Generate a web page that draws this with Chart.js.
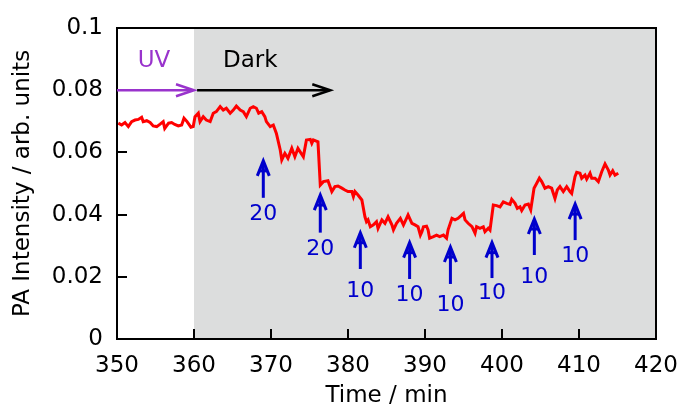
<!DOCTYPE html>
<html>
<head>
<meta charset="utf-8">
<script src="https://cdn.jsdelivr.net/npm/chart.js@4.4.1/dist/chart.umd.min.js"></script>
<style>
  html, body { margin: 0; padding: 0; background: #ffffff; }
  #wrap { width: 680px; height: 407px; }
</style>
</head>
<body>
<div id="wrap"><canvas id="c" width="680" height="407"></canvas></div>
<script>
// Photoacoustic intensity trace (time in min, intensity in arb. units)
const times = [
  350.17, 350.6, 351.04, 351.47, 351.9, 352.34, 352.77, 353.2, 353.4, 353.86,
  354.3, 354.7, 355.16, 355.6, 356.0, 356.2, 356.7, 357.1, 357.5, 357.96,
  358.4, 358.7, 359.1, 359.6, 359.9,
  360.13, 360.56, 360.78, 361.2, 361.6, 362.1, 362.5, 362.9, 363.4, 363.8,
  364.2, 364.7, 365.1, 365.5, 366.0, 366.4, 366.8, 367.3, 367.7, 368.1,
  368.4, 368.8, 369.2, 369.4, 369.9, 370.3, 370.7, 371.2, 371.4, 371.8,
  372.2, 372.7, 373.1, 373.5,
  374.2, 374.6, 375.1, 375.3, 375.5, 376.1, 376.4, 376.8, 377.4, 377.9,
  378.3, 378.7, 379.2, 379.6, 380.0, 380.5, 380.7, 380.9, 381.3, 381.8,
  382.2, 382.4, 382.6, 382.9, 383.3, 383.7, 383.9, 384.4, 384.8, 385.2,
  385.7, 385.9, 386.3, 386.8, 387.2, 387.6, 387.8, 388.3, 388.7, 389.1,
  389.4, 389.6, 389.8, 390.2, 390.4, 390.6, 391.1, 391.5, 391.9, 392.4,
  392.8, 393.0, 393.5, 393.9, 394.3, 395.0, 395.2, 395.6, 396.1, 396.5,
  396.7,
  397.14, 397.57, 397.79, 398.22, 398.44, 398.87, 399.31, 399.74, 400.17, 400.61,
  401.04, 401.26, 401.69, 401.99, 402.34, 402.56, 402.99, 403.42, 403.73, 404.16,
  404.51, 404.85, 405.16, 405.58, 406.01, 406.45, 406.88, 407.18, 407.53, 407.96,
  408.40, 408.83, 409.05, 409.48, 409.70, 410.13, 410.35, 410.78, 411.0, 411.43,
  411.65, 412.08, 412.51, 412.95, 413.38, 413.81, 414.03, 414.38, 414.68, 415.1
];
const intensity = [
  0.0694, 0.0688, 0.0696, 0.0683, 0.0699, 0.0704, 0.0706, 0.0713, 0.0699, 0.0702,
  0.0696, 0.0685, 0.0683, 0.0691, 0.0699, 0.0677, 0.0694, 0.0696, 0.0690, 0.0685,
  0.0688, 0.0710, 0.0699, 0.0681, 0.0683,
  0.0715, 0.0726, 0.0699, 0.0715, 0.0704, 0.0699, 0.0726, 0.0731, 0.0747, 0.0736,
  0.0742, 0.0726, 0.0736, 0.0749, 0.0736, 0.0731, 0.0715, 0.0742, 0.0747, 0.0742,
  0.0726, 0.0731, 0.0715, 0.0699, 0.0683, 0.0688, 0.0661, 0.0608, 0.0576, 0.0597,
  0.0581, 0.0613, 0.0586, 0.0613,
  0.0586, 0.0640, 0.0642, 0.0629, 0.0640, 0.0634, 0.0495, 0.0506, 0.0509, 0.0474,
  0.0490, 0.0492, 0.0485, 0.0479, 0.0474, 0.0474, 0.0458, 0.0474, 0.0463, 0.0447,
  0.0393, 0.0377, 0.0383, 0.0361, 0.0367, 0.0377, 0.0356, 0.0383, 0.0372, 0.0393,
  0.0367, 0.0351, 0.0372, 0.0388, 0.0367, 0.0388, 0.0399, 0.0372, 0.0367, 0.0361,
  0.0334, 0.0345, 0.0361, 0.0363, 0.0351, 0.0324, 0.0329, 0.0334, 0.0329, 0.0334,
  0.0324, 0.0351, 0.0388, 0.0383, 0.0388, 0.0404, 0.0383, 0.0372, 0.0361, 0.0340,
  0.0361,
  0.0356, 0.0361, 0.0345, 0.0356, 0.0350, 0.0431, 0.0429, 0.0425, 0.0441, 0.0436,
  0.0433, 0.0449, 0.0436, 0.0420, 0.0425, 0.0413, 0.0431, 0.0434, 0.0415, 0.0485,
  0.0501, 0.0517, 0.0506, 0.0485, 0.0490, 0.0485, 0.0452, 0.0479, 0.0490, 0.0474,
  0.0490, 0.0474, 0.0468, 0.0522, 0.0536, 0.0533, 0.0517, 0.0527, 0.0514, 0.0533,
  0.0517, 0.0517, 0.0506, 0.0538, 0.0563, 0.0543, 0.0527, 0.0541, 0.0527, 0.0533
];

// Axis ticks
const xTicks = [350, 360, 370, 380, 390, 400, 410, 420];
const yTicks = [0, 0.02, 0.04, 0.06, 0.08, 0.1];
const yTickLabels = ['0', '0.02', '0.04', '0.06', '0.08', '0.1'];

// Illumination phases
const uvStart = 350, darkStart = 360, darkEnd = 420, darkArrowStart = 360.4, darkArrowEnd = 377.7;
const phaseArrowLevel = 0.08;
const phaseLabelLevel = 0.0895;
const uvLabelTime = 354.8, darkLabelTime = 367.3;

// Dosing events (blue arrows) and their amounts
const arrowTimes  = [369.0, 376.4, 381.6, 388.0, 393.3, 398.7, 404.2, 409.5];
const arrowTips   = [0.0576, 0.0466, 0.0345, 0.0313, 0.0299, 0.0313, 0.0389, 0.0437];
const arrowBases  = [0.0454, 0.0342, 0.0225, 0.0193, 0.0177, 0.0196, 0.0270, 0.0318];
const doseLabels  = ['20', '20', '10', '10', '10', '10', '10', '10'];
const labelLevels = [0.0402, 0.0289, 0.0155, 0.0141, 0.0109, 0.0148, 0.0200, 0.0265];

const FONT = 'DejaVu Sans';
const BLUE = '#0000cc';
const PURPLE = '#9933cc';

Chart.defaults.font.family = FONT;
Chart.defaults.color = '#000000';

// Grey background for the dark period
const darkShade = {
  id: 'darkShade',
  beforeDatasetsDraw(chart) {
    const { ctx, chartArea, scales: { x } } = chart;
    const x0 = x.getPixelForValue(darkStart), x1 = x.getPixelForValue(darkEnd);
    ctx.save();
    ctx.fillStyle = '#dcdddd';
    ctx.fillRect(x0, chartArea.top, x1 - x0, chartArea.bottom - chartArea.top);
    ctx.restore();
  }
};

// Plot frame with inward tick marks
const frameTicks = {
  id: 'frameTicks',
  afterDatasetsDraw(chart) {
    const { ctx, chartArea: a, scales: { x, y } } = chart;
    ctx.save();
    ctx.strokeStyle = '#000000';
    ctx.lineWidth = 2;
    ctx.beginPath();
    xTicks.forEach(v => {
      const px = Math.round(x.getPixelForValue(v));
      ctx.moveTo(px, a.bottom); ctx.lineTo(px, a.bottom - 10);
    });
    yTicks.forEach(v => {
      const py = Math.round(y.getPixelForValue(v));
      ctx.moveTo(a.left, py); ctx.lineTo(a.left + 10, py);
    });
    ctx.stroke();
    ctx.strokeRect(a.left, a.top, a.right - a.left, a.bottom - a.top);
    ctx.restore();
  }
};

function drawChevronArrow(ctx, x0, x1, py, color) {
  ctx.strokeStyle = color;
  ctx.lineWidth = 2.5;
  ctx.lineCap = 'butt';
  ctx.lineJoin = 'miter';
  ctx.beginPath();
  ctx.moveTo(x0, py); ctx.lineTo(x1 - 1, py);
  ctx.stroke();
  ctx.beginPath();
  ctx.moveTo(x1 - 18, py - 6); ctx.lineTo(x1, py); ctx.lineTo(x1 - 18, py + 6);
  ctx.stroke();
}

// Phase arrows and dosing arrows with labels
const annotations = {
  id: 'annotations',
  afterDatasetsDraw(chart) {
    const { ctx, scales: { x, y } } = chart;
    ctx.save();
    const py = y.getPixelForValue(phaseArrowLevel);
    drawChevronArrow(ctx, x.getPixelForValue(uvStart), x.getPixelForValue(darkStart), py, PURPLE);
    drawChevronArrow(ctx, x.getPixelForValue(darkArrowStart), x.getPixelForValue(darkArrowEnd), py, '#000000');

    ctx.font = '23px "' + FONT + '"';
    ctx.textAlign = 'center';
    ctx.textBaseline = 'middle';
    const ly = y.getPixelForValue(phaseLabelLevel);
    ctx.fillStyle = PURPLE;
    ctx.fillText('UV', x.getPixelForValue(uvLabelTime), ly);
    ctx.fillStyle = '#000000';
    ctx.fillText('Dark', x.getPixelForValue(darkLabelTime), ly);

    ctx.strokeStyle = BLUE;
    ctx.fillStyle = BLUE;
    ctx.lineWidth = 3;
    ctx.lineJoin = 'miter';
    ctx.font = '22px "' + FONT + '"';
    arrowTimes.forEach((t, i) => {
      const px = x.getPixelForValue(t);
      const tip = y.getPixelForValue(arrowTips[i]);
      const base = y.getPixelForValue(arrowBases[i]);
      ctx.beginPath();
      ctx.moveTo(px, base); ctx.lineTo(px, tip + 2);
      ctx.stroke();
      ctx.beginPath();
      ctx.moveTo(px - 6, tip + 16); ctx.lineTo(px, tip + 1); ctx.lineTo(px + 6, tip + 16);
      ctx.stroke();
      ctx.beginPath();
      ctx.moveTo(px - 4.5, tip + 11); ctx.lineTo(px + 4.5, tip + 11);
      ctx.stroke();
      ctx.fillText(doseLabels[i], px, y.getPixelForValue(labelLevels[i]));
    });
    ctx.restore();
  }
};

new Chart(document.getElementById('c'), {
  type: 'line',
  data: {
    datasets: [{
      data: times.map((t, i) => ({ x: t, y: intensity[i] })),
      borderColor: '#ff0000',
      borderWidth: 3,
      pointRadius: 0,
      tension: 0,
      fill: false
    }]
  },
  options: {
    responsive: false,
    animation: false,
    devicePixelRatio: 1,
    layout: { padding: { top: 28, right: 24, bottom: 0, left: 0 } },
    plugins: { legend: { display: false }, tooltip: { enabled: false } },
    scales: {
      x: {
        type: 'linear',
        min: 350, max: 420,
        afterBuildTicks: s => { s.ticks = xTicks.map(v => ({ value: v })); },
        afterFit: s => { s.height = 68; s.paddingLeft = 0; s.paddingRight = 0; },
        grid: { display: false, drawTicks: false },
        border: { display: false },
        ticks: {
          color: '#000000', font: { size: 23 }, padding: 13,
          maxRotation: 0, autoSkip: false,
          callback: v => String(v)
        },
        title: {
          display: true, text: 'Time / min', color: '#000000',
          font: { size: 23 }, padding: { top: 0, bottom: -3 }
        }
      },
      y: {
        type: 'linear',
        min: 0, max: 0.1,
        afterBuildTicks: s => { s.ticks = yTicks.map(v => ({ value: v })); },
        afterFit: s => { s.width = 117; s.paddingTop = 0; s.paddingBottom = 0; },
        grid: { display: false, drawTicks: false },
        border: { display: false },
        ticks: {
          color: '#000000', font: { size: 23 }, padding: 14,
          autoSkip: false,
          callback: (v) => {
            const k = yTicks.findIndex(t => Math.abs(t - v) < 1e-9);
            return k >= 0 ? yTickLabels[k] : '';
          }
        },
        title: {
          display: true, text: 'PA Intensity / arb. units', color: '#000000',
          font: { size: 23 }, padding: { top: 9, bottom: 0 }
        }
      }
    }
  },
  plugins: [darkShade, frameTicks, annotations]
});
</script>
</body>
</html>
